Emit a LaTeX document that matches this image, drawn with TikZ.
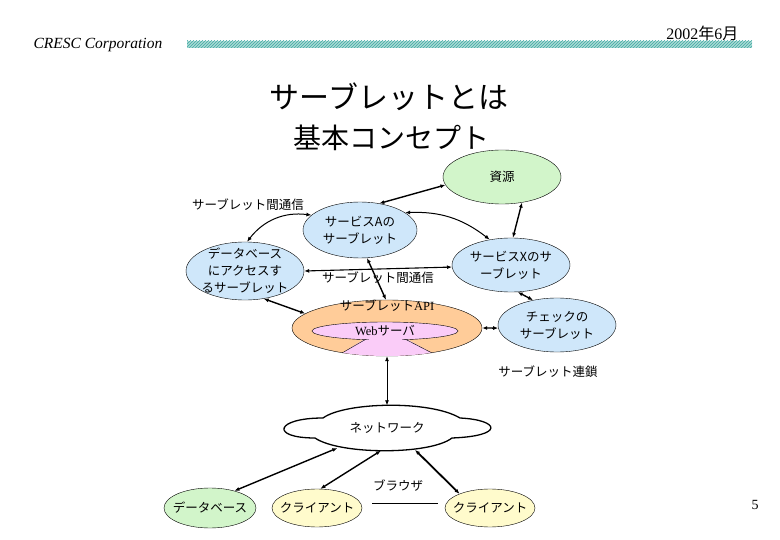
\documentclass[tikz,border=0pt]{standalone}
\usepackage{fontspec}
\setmainfont{Liberation Serif}
\newfontfamily\jp{Noto Sans CJK JP}
\usepackage{tikz}
\usetikzlibrary{arrows.meta,shapes.geometric,patterns}
\definecolor{srvblue}{HTML}{CFE7FA}
\definecolor{resgreen}{HTML}{D2F5CA}
\definecolor{weborange}{HTML}{FFCC99}
\definecolor{webpink}{HTML}{FACCF8}
\definecolor{cliyellow}{HTML}{FFFBCC}
\definecolor{barteal}{HTML}{3FAAA2}

\begin{document}
\begin{tikzpicture}[x=1pt,y=-1pt,
    every node/.style={font=\jp\fontsize{12.5}{17}\selectfont},
    blob/.style={ellipse, draw, thin, inner sep=0pt},
    link/.style={<->, >={Latex[length=5pt,width=4pt]}, line width=1.4pt}]
      \useasboundingbox (0,0) rectangle (780,540);

      % header
      \node[anchor=west, font=\itshape\fontsize{15.5}{18}\selectfont] (corp) at (30,45) {CRESC Corporation};
      \node[anchor=east, font=\fontsize{16}{18}\selectfont] (date) at (742,33) {2002{\jp 年}6{\jp 月}};
      \fill[barteal!45] (187,41) rectangle (752,48);
      \fill[pattern=north east lines, pattern color=barteal] (187,41) rectangle (752,48);
      \node[font=\jp\fontsize{30}{34}\selectfont] (title) at (389,97) {サーブレットとは};
      \node[font=\jp\fontsize{28}{32}\selectfont] (sub) at (391,138) {基本コンセプト};
      \node[font=\fontsize{14}{16}\selectfont] (pg) at (755,505) {5};

      % servlets
      \node[blob, fill=resgreen, minimum width=118, minimum height=54,
            label=center:{資源}] (res) at (502,177) {};
      \node[blob, fill=srvblue, minimum width=114, minimum height=56,
            label={[align=center]center:{サービスAの\\サーブレット}}] (svA) at (360,230) {};
      \node[blob, fill=srvblue, minimum width=118, minimum height=58,
            label={[align=center]center:{データベース\\にアクセスす\\るサーブレット}}] (dbs) at (245,271) {};
      \node[blob, fill=srvblue, minimum width=118, minimum height=54,
            label={[align=center]center:{サービスXのサ\\ーブレット}}] (svX) at (511,265) {};
      \node[blob, fill=srvblue, minimum width=118, minimum height=54,
            label={[align=center]center:{チェックの\\サーブレット}}] (chk) at (557,325) {};

      % web server
      \node[blob, fill=weborange, minimum width=190, minimum height=56] (web) at (387,328) {};
      \begin{scope}
        \clip (387,328) ellipse [x radius=95pt, y radius=28pt];
        \fill[webpink] (342,353) -- (368,337) -- (403,337) -- (432,353) -- (445,370) -- (330,370) -- cycle;
      \end{scope}
      \draw (342,353) -- (368,338) (403,338) -- (432,353);
      \node[blob, fill=webpink, minimum width=146, minimum height=18] (websv) at (385,331) {};
      \fill[webpink] (369,338) rectangle (402,344);
      \node (wtext) at (385,331) {{\rmfamily Web}サーバ};
      \node (api) at (387,306) {サーブレット{\rmfamily API}};

      % network
      \node[ellipse, inner sep=0pt, minimum width=211, minimum height=45] (net) at (387,428) {ネットワーク};
      \draw[line width=1.3pt] (323,418) .. controls (345,402) and (430,400) .. (460,418)
            .. controls (500,420) and (505,436) .. (452,438)
            .. controls (430,455) and (340,455) .. (315,438)
            .. controls (270,438) and (275,418) .. (323,418);

      \node[blob, fill=resgreen, minimum width=92, minimum height=40,
            label=center:{データベース}] (db) at (210,508) {};
      \node[blob, fill=cliyellow, minimum width=90, minimum height=38,
            label=center:{クライアント}] (cl1) at (317,508) {};
      \node[blob, fill=cliyellow, minimum width=90, minimum height=38,
            label=center:{クライアント}] (cl2) at (490,508) {};

      % labels
      \node (com1) at (248,205) {サーブレット間通信};
      \node (com2) at (378,278) {サーブレット間通信};
      \node (chain) at (548,372) {サーブレット連鎖};
      \node (brw) at (398,486) {ブラウザ};

      \path [link] (svA.54) edge (res.188);
      \path [link] (res.308) edge (svX.86);
      \path [link, line width=1pt] (svA.21) edge[bend left=20] (svX.130);
      \path [link, line width=1pt] (svA.163) edge[bend right=30] (dbs.86);
      \path [link, line width=1.1pt] (dbs.0) edge (svX.182);
      \path [link] (svA.284) edge (web.92);
      \path [link] (dbs.304) edge (web.170);
      \path [link] (svX.284) edge (chk.134);
      \path [link] (web.east) edge (chk.183);
      \path [link, line width=0.8pt] (web.south) edge (net.north);
      \path [link] (net.202) edge (db.35);
      \path [link] (net.255) edge (cl1.80);
      \path [link, line width=1.8pt] (net.322) edge (cl2.155);
      \draw[thin] ([shift={(10,-5)}]cl1.east) -- ([shift={(-7,-5)}]cl2.west);
\end{tikzpicture}
\end{document}
